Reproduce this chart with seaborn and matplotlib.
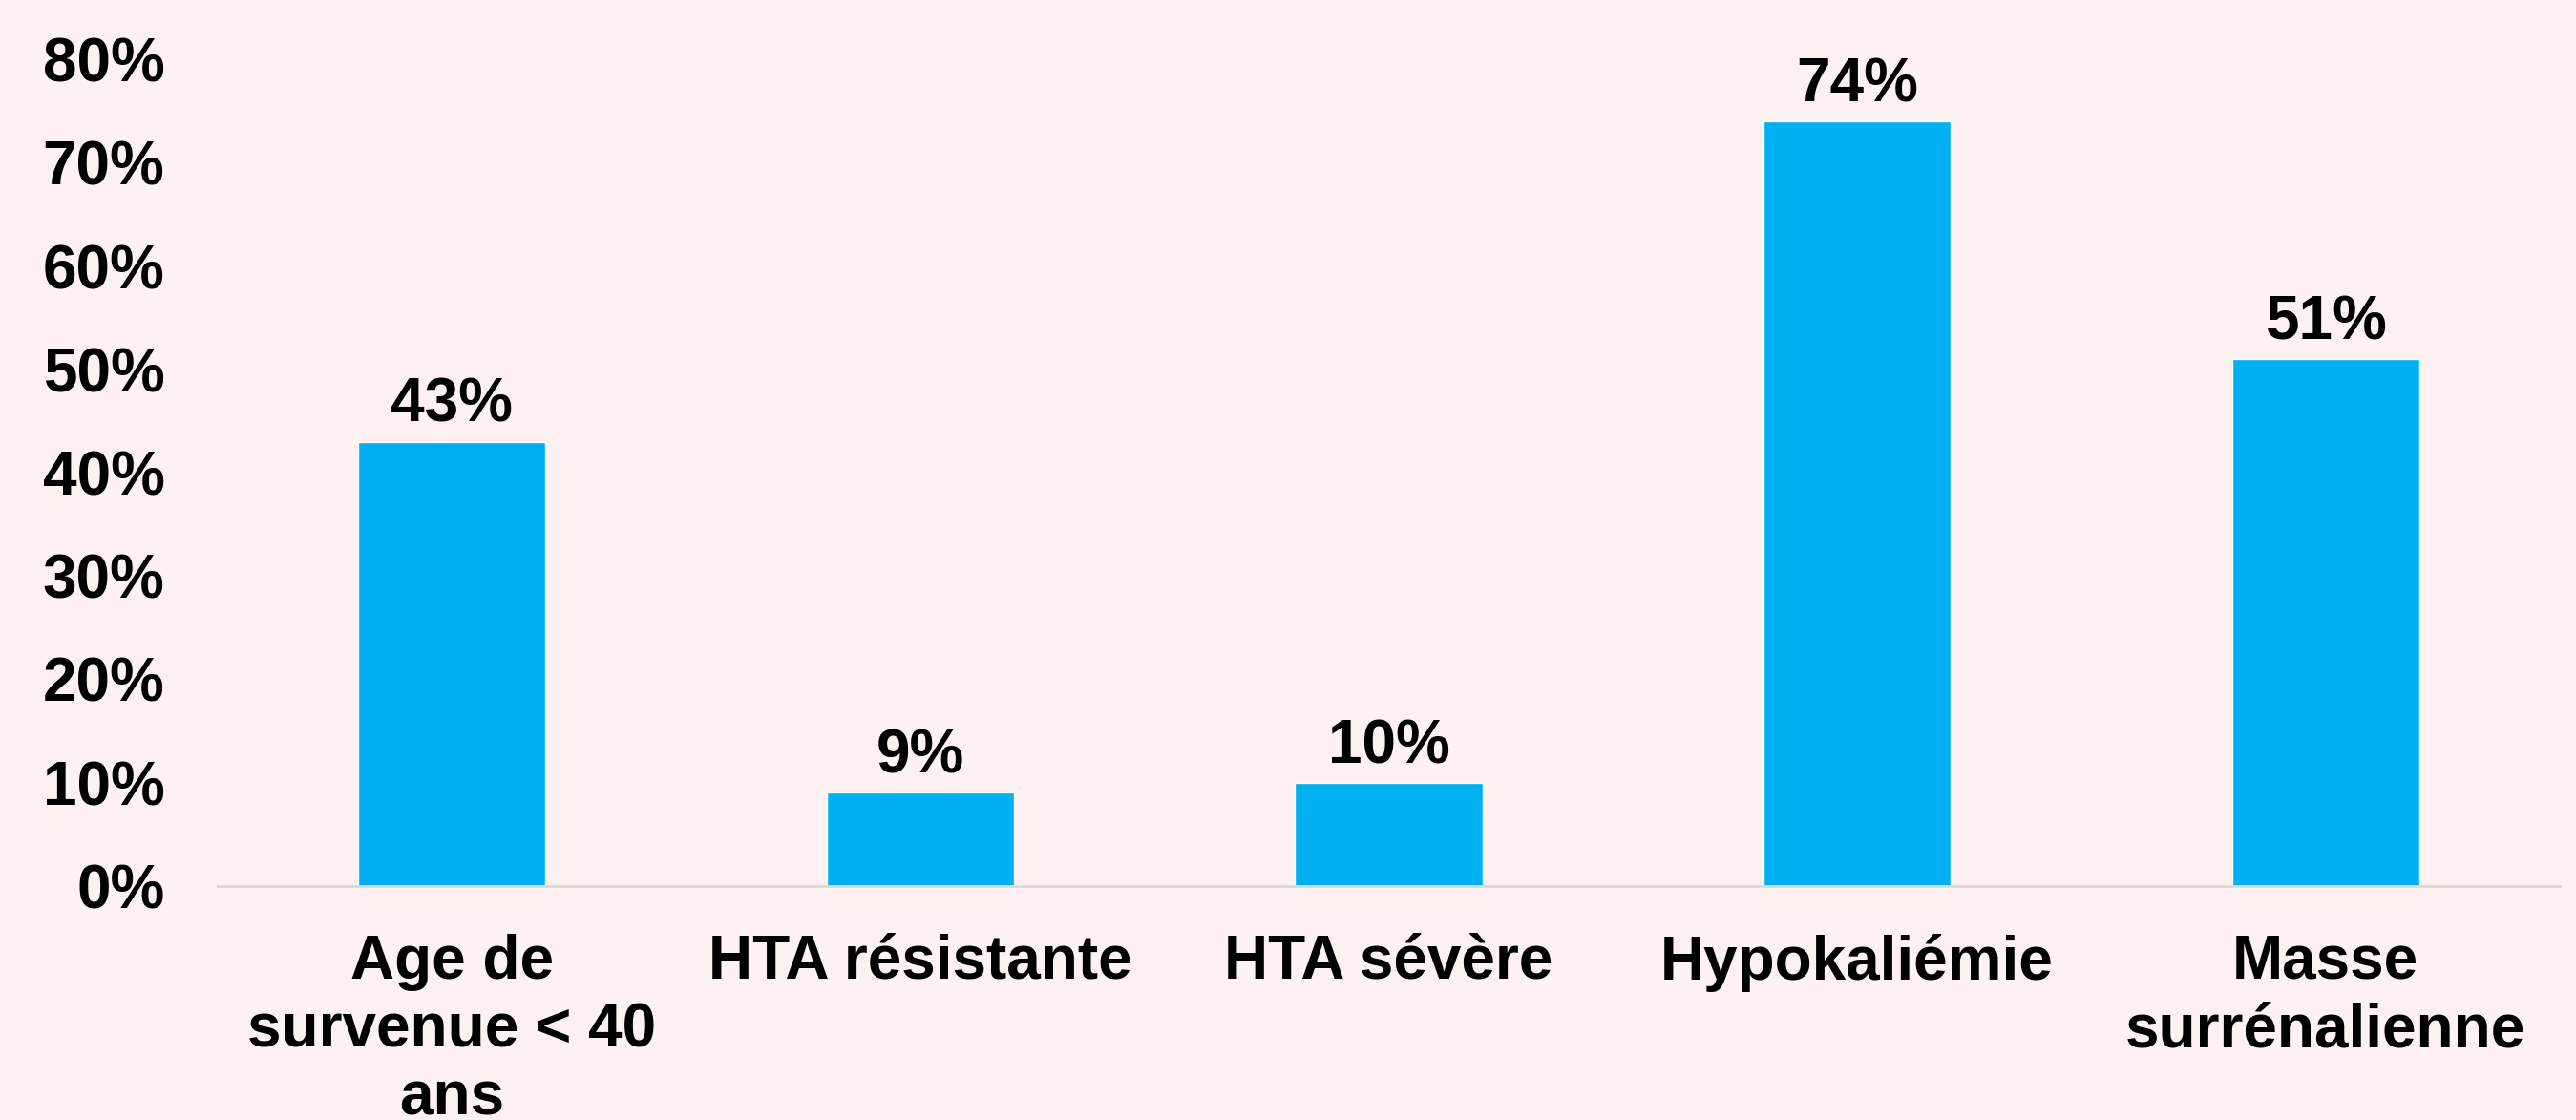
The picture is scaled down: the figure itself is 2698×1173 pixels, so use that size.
import numpy as np
import pandas as pd
import matplotlib.pyplot as plt
import seaborn as sns
from matplotlib.ticker import PercentFormatter

categories = ["Age de\nsurvenue < 40\nans", "HTA résistante", "HTA sévère", "Hypokaliémie", "Masse\nsurrénalienne"]
values = [0.43, 0.09, 0.10, 0.74, 0.51]
labels = ["43%", "9%", "10%", "74%", "51%"]

bg = "#FEF1F1"
bar_color = "#00B0F0"

sns.set_theme(style="white")
plt.rcParams['font.family'] = ['Liberation Sans', 'DejaVu Sans']
plt.rcParams['font.weight'] = 'bold'

df = pd.DataFrame({"cat": categories, "val": values})

fig = plt.figure(figsize=(26.98, 11.73), dpi=100, facecolor=bg)
ax = fig.add_axes([0.0845, 0.209, 0.9092, 0.738])
ax.set_facecolor(bg)

sns.barplot(data=df, x="cat", y="val", color=bar_color, width=0.4, saturation=1, ax=ax)

for i, (v, lab) in enumerate(zip(values, labels)):
    ax.text(i, v + 0.007, lab, ha="center", va="bottom", fontsize=46, fontweight="bold", color="black")

ax.set_ylim(0, 0.8)
ax.set_xlim(-0.5, 4.5)
ax.set_yticks(np.arange(0, 0.81, 0.1))
ax.yaxis.set_major_formatter(PercentFormatter(1.0, decimals=0))
ax.set_xlabel("")
ax.set_ylabel("")
ax.tick_params(axis="y", labelsize=46, length=0, pad=40)
ax.tick_params(axis="x", labelsize=46, length=0, pad=36)
for t in ax.get_xticklabels() + ax.get_yticklabels():
    t.set_fontweight("bold")
    t.set_color("black")
for t in ax.get_xticklabels():
    t.set_linespacing(1.24)

sns.despine(ax=ax, left=True)
ax.spines["bottom"].set_color("#D9D9D9")
ax.spines["bottom"].set_linewidth(2)

fig.savefig("out.png", dpi=100, facecolor=bg)
